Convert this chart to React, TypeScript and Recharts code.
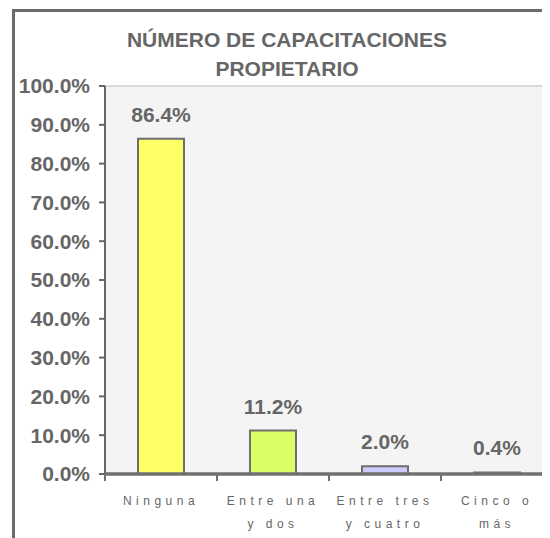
import React from 'react';
import {
  BarChart,
  Bar,
  XAxis,
  YAxis,
  CartesianGrid,
  ReferenceLine,
  LabelList,
  Cell,
} from 'recharts';

// data
const categories = ['Ninguna\n', 'Entre una\ny dos', 'Entre tres\ny cuatro', 'Cinco o\nmás'];
const shares = [0.864, 0.112, 0.02, 0.004];
const barColors = ['#FFFF66', '#D9FF66', '#CCCCFF', '#CCFFFF'];
const yTicks = [0, 0.1, 0.2, 0.3, 0.4, 0.5, 0.6, 0.7, 0.8, 0.9, 1];

const data = categories.map((name, i) => ({ name, value: shares[i] }));

const CHART_W = 560;
const CHART_H = 530;
const MARGIN = { top: 78, right: 15, left: 0, bottom: 0 };
const Y_AXIS_W = 97;
const X_AXIS_H = 64;
const AXIS_Y = CHART_H - MARGIN.bottom - X_AXIS_H;
const HALF_BAND = (CHART_W - MARGIN.left - MARGIN.right - Y_AXIS_W) / categories.length / 2;

const grey = '#666666';
const font = '"Liberation Sans", Arial, sans-serif';

const pct = (v: number) => (v * 100).toFixed(1) + '%';

// category labels, with tick marks on the band edges like Excel
const CategoryTick = (props: any) => {
  const { x, payload, index } = props;
  const lines = String(payload.value).split('\n');
  return (
    <g>
      {index === 0 && (
        <line x1={x - HALF_BAND} x2={x - HALF_BAND} y1={AXIS_Y} y2={AXIS_Y + 7} stroke="#707070" strokeWidth={2} />
      )}
      <line x1={x + HALF_BAND} x2={x + HALF_BAND} y1={AXIS_Y} y2={AXIS_Y + 7} stroke="#707070" strokeWidth={2} />
      {lines.map((ln, i) => (
        <text
          key={i}
          x={x}
          y={AXIS_Y + 31 + i * 23}
          textAnchor="middle"
          fill={grey}
          fontSize={12}
          fontFamily={font}
          letterSpacing="4.5px"
        >
          {ln}
        </text>
      ))}
    </g>
  );
};

export default function App() {
  return (
    <div
      style={{
        position: 'relative',
        width: 542,
        height: 530,
        overflow: 'hidden',
        background: '#fff',
        fontFamily: font,
      }}
    >
      <div
        style={{
          position: 'absolute',
          left: 4,
          top: 1,
          width: 620,
          height: 620,
          border: '3px solid #6B6B6B',
        }}
      />
      <div
        style={{
          position: 'absolute',
          left: 0,
          top: 17,
          width: 558,
          textAlign: 'center',
          fontSize: 21,
          fontWeight: 'bold',
          lineHeight: '29px',
          color: grey,
        }}
      >
        NÚMERO DE CAPACITACIONES
        <br />
        PROPIETARIO
      </div>
      <div style={{ position: 'absolute', left: 0, top: 0 }}>
        <BarChart width={CHART_W} height={CHART_H} data={data} margin={MARGIN}>
          <CartesianGrid horizontal={false} vertical={false} fill="#F4F4F4" />
          <ReferenceLine y={1} stroke="#CFCFCF" strokeWidth={1.5} />
          <XAxis
            dataKey="name"
            height={X_AXIS_H}
            interval={0}
            tickLine={false}
            axisLine={{ stroke: '#707070', strokeWidth: 3.5 }}
            tick={<CategoryTick />}
          />
          <YAxis
            width={Y_AXIS_W}
            domain={[0, 1]}
            ticks={yTicks}
            tickFormatter={pct}
            tickSize={6}
            tickMargin={9}
            axisLine={{ stroke: grey, strokeWidth: 2 }}
            tickLine={{ stroke: grey, strokeWidth: 2 }}
            tick={{ fill: grey, fontSize: 21, fontWeight: 'bold', fontFamily: font }}
          />
          <Bar dataKey="value" barSize={46} stroke="#6E6E6E" strokeWidth={2} isAnimationActive={false}>
            {data.map((d, i) => (
              <Cell key={d.name} fill={barColors[i]} />
            ))}
            <LabelList
              dataKey="value"
              position="top"
              offset={17}
              formatter={(v: any) => pct(Number(v))}
              fill={grey}
              fontSize={21}
              fontWeight="bold"
              fontFamily={font}
            />
          </Bar>
        </BarChart>
      </div>
    </div>
  );
}
